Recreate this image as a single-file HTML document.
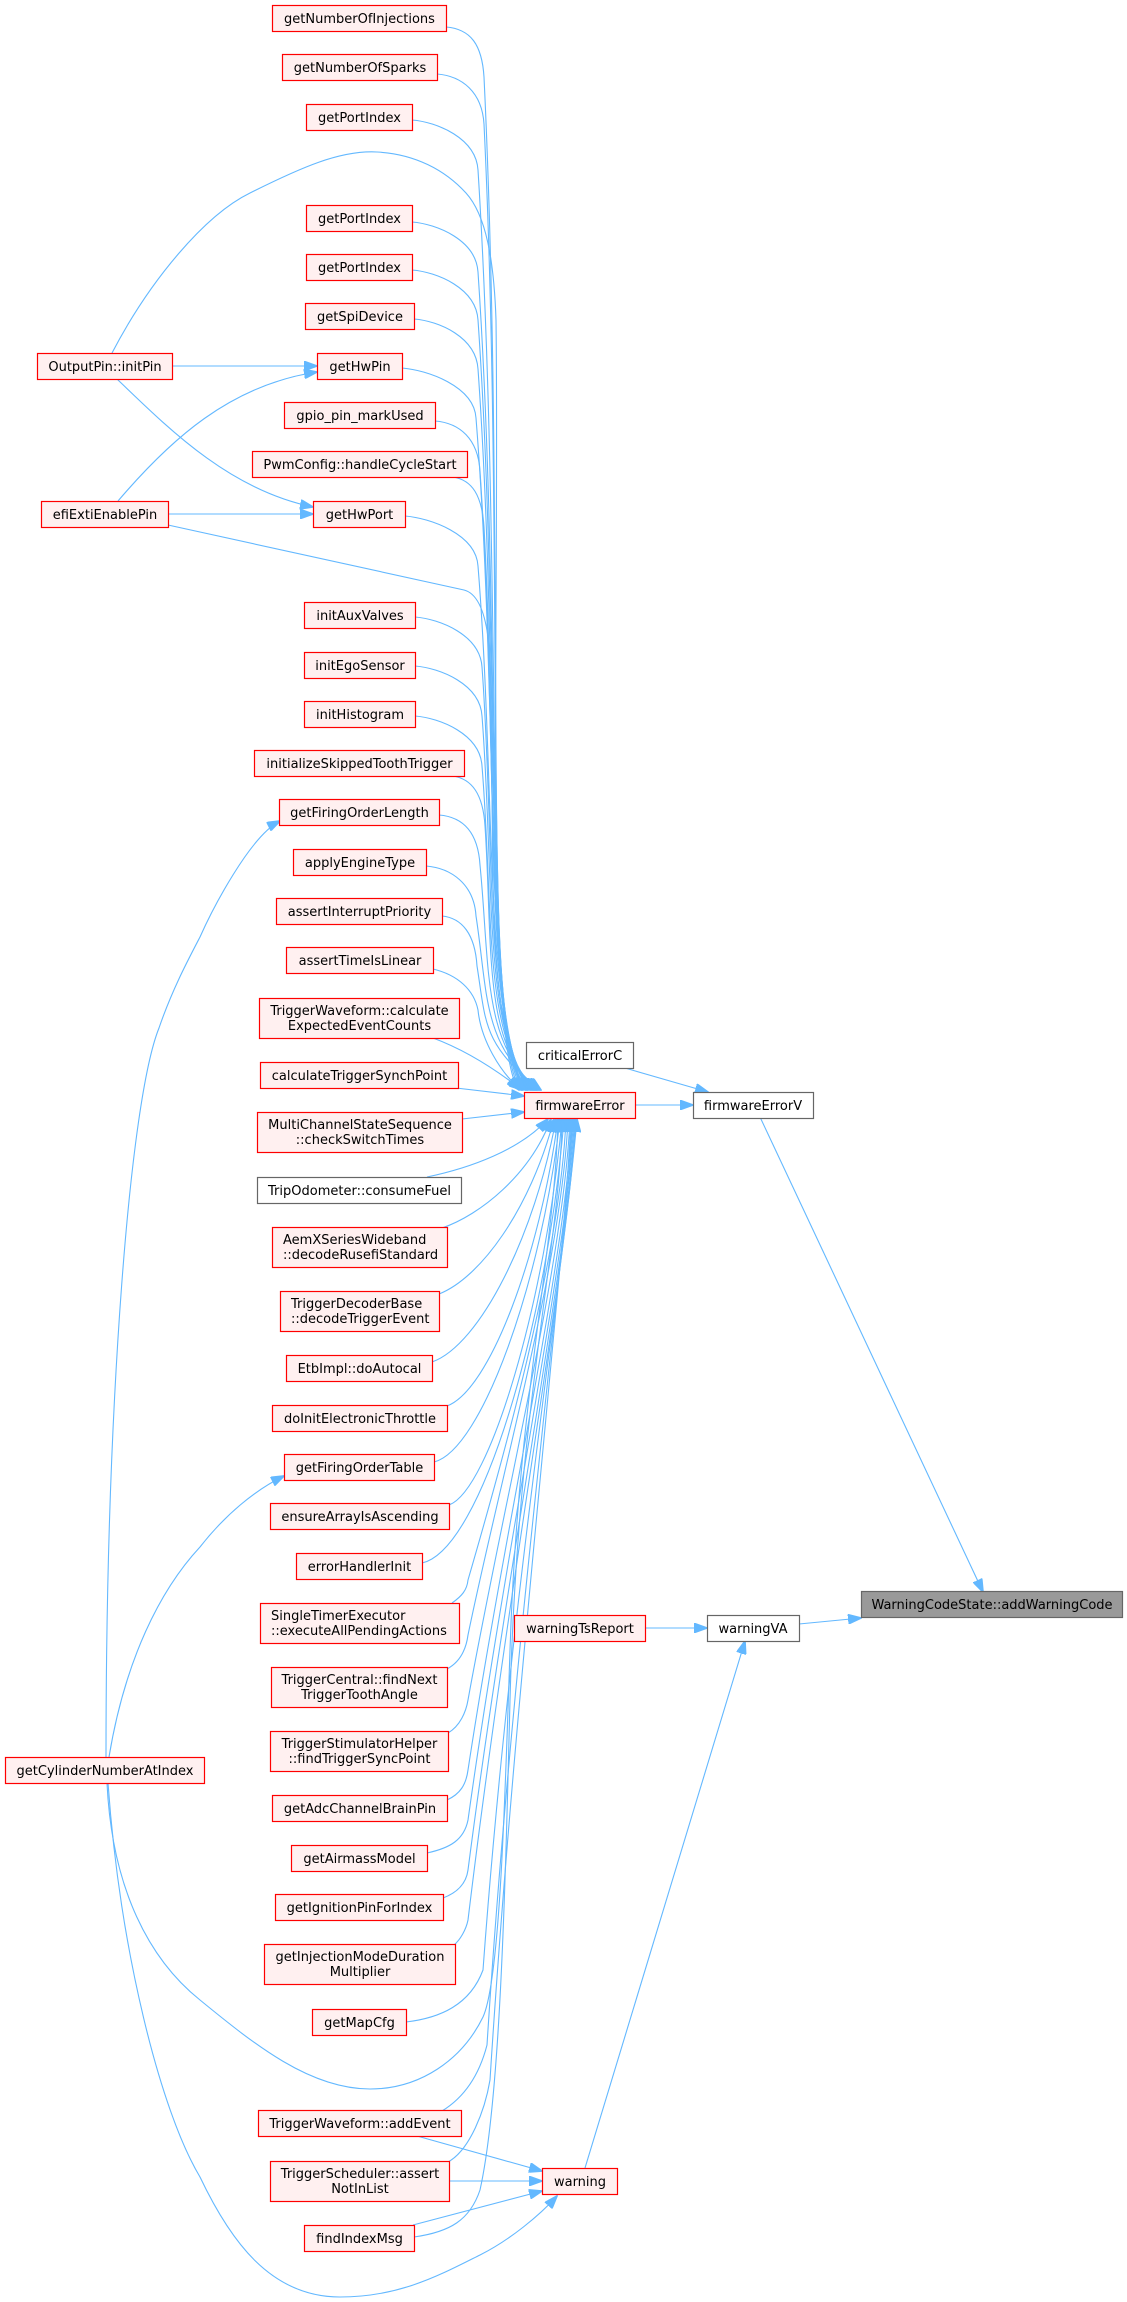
<!DOCTYPE html>
<html><head><meta charset="utf-8"><style>
html,body{margin:0;padding:0;background:#fff;}
svg{display:block;}
text{font-family:"DejaVu Sans","Liberation Sans",sans-serif;font-size:13px;fill:#000;}
.r{fill:#fff0f0;stroke:#ff0000;stroke-width:1.2;}
.g{fill:#fff;stroke:#666;stroke-width:1.2;}
.k{fill:#999;stroke:#666;stroke-width:1.2;}
path{fill:none;stroke:#63b8ff;stroke-width:1.1;}
</style></head><body>
<svg width="1127" height="2302" viewBox="0 0 1127 2302" xmlns="http://www.w3.org/2000/svg">
<defs><marker id="a" markerWidth="14" markerHeight="10" refX="13" refY="5" orient="auto" markerUnits="userSpaceOnUse"><polygon points="0,0 14,5 0,10" fill="#63b8ff" stroke="#63b8ff"/></marker></defs>
<g marker-end="url(#a)">
<path d="M446,27 C471,29 482,45 484,77 C506,533 482,1045 519,1090"/>
<path d="M437,74 C462,76 482,92 484,124 C505,559 482,1045 521,1090"/>
<path d="M412,120 C437,122 476,138 478,170 C504,584 482,1045 523,1090"/>
<path d="M412,222 C437,224 476,240 478,272 C503,640 482,1045 525,1090"/>
<path d="M412,270 C437,272 476,288 478,320 C502,666 482,1045 527,1090"/>
<path d="M414,319 C439,321 476,337 478,369 C501,693 482,1045 528,1090"/>
<path d="M402,368 C427,370 474,386 476,418 C500,719 482,1045 530,1090"/>
<path d="M435,421 C460,423 478,439 480,471 C499,750 482,1045 531,1090"/>
<path d="M453,477 C472,480 482,495 484,527 C498,780 482,1045 532,1090"/>
<path d="M405,516 C430,518 476,534 478,566 C497,802 482,1045 533,1090"/>
<path d="M168,525 L464,590 C480,594 488,620 490,660 C496,860 482,1045 534,1090"/>
<path d="M415,617 C440,619 480,635 482,667 C496,857 482,1045 535,1090"/>
<path d="M415,666 C440,668 480,684 482,716 C495,884 482,1045 536,1090"/>
<path d="M415,716 C440,718 480,734 482,766 C494,912 482,1045 537,1090"/>
<path d="M453,776 C472,779 483,794 485,826 C493,945 482,1045 538,1090"/>
<path d="M439,815 C464,817 478,833 480,865 C490,966 482,1045 539,1090"/>
<path d="M426,866 C451,868 474,884 476,916 C488,994 482,1045 540,1090"/>
<path d="M442,916 C462,918 475,934 477,966 C486,1022 482,1045 541,1090"/>
<path d="M433,969 C458,975 474,990 478,1010 C481,1040 500,1072 520,1089"/>
<path d="M433,1038 C460,1048 490,1065 522,1090"/>
<path d="M456,1088 L524,1096"/>
<path d="M462,1119 L524,1112"/>
<path d="M112,353 C150,280 205,215 250,193 C300,168 340,150 377,152 C415,154 445,170 466,193 C486,215 494,260 496,320 C500,640 482,1045 526,1090"/>
<path d="M427,1177 C470,1168 520,1150 548,1119"/>
<path d="M442,1228 C480,1215 530,1175 551,1119"/>
<path d="M439,1294 C480,1278 530,1210 554,1119"/>
<path d="M432,1362 C480,1345 535,1235 556,1119"/>
<path d="M447,1406 C490,1390 540,1255 558,1119"/>
<path d="M434,1462 C482,1450 542,1280 560,1119"/>
<path d="M449,1505 C490,1490 546,1300 562,1119"/>
<path d="M422,1563 C482,1550 548,1320 564,1119"/>
<path d="M452,1603 C462,1596 467,1590 468,1580 C500,1470 560,1260 566,1119"/>
<path d="M447,1669 C460,1662 466,1650 468,1635 C502,1470 562,1260 568,1119"/>
<path d="M448,1733 C460,1726 466,1712 468,1700 C504,1500 564,1260 570,1119"/>
<path d="M447,1800 C460,1794 466,1785 468,1770 C506,1520 566,1260 572,1119"/>
<path d="M427,1853 C450,1848 464,1840 468,1820 C507,1540 567,1260 574,1119"/>
<path d="M443,1898 C456,1893 466,1885 468,1870 C508,1560 568,1260 575,1119"/>
<path d="M454,1945 C460,1940 466,1930 468,1920 C509,1580 568,1260 576,1119"/>
<path d="M406,2022 C440,2018 470,2005 483,1970 C510,1600 565,1260 577,1119"/>
<path d="M442,2111 C460,2100 478,2080 487,2045 C512,1650 565,1260 573,1119"/>
<path d="M448,2162 C470,2150 485,2110 490,2080 C514,1700 565,1260 571,1119"/>
<path d="M414,2237 C450,2232 470,2220 480,2190 C500,2100 505,1900 510,1700 C518,1400 560,1250 562,1119"/>
<path d="M107,1783 C112,1890 150,1960 200,2000 C255,2045 310,2089 370,2089 C420,2089 462,2060 483,2017 C500,1980 505,1800 510,1650 C518,1400 555,1250 558,1119"/>
<path d="M172,366 L317,366"/>
<path d="M117,379 C170,430 230,490 313,507"/>
<path d="M118,501 C170,440 230,385 317,372"/>
<path d="M168,514 L313,514"/>
<path d="M106,1757 C106,1400 130,1100 159,1028 C172,990 188,960 200,937 C212,910 250,836 280,821"/>
<path d="M109,1757 C125,1660 160,1590 200,1547 C225,1515 255,1490 284,1476"/>
<path d="M108,1783 C120,1950 160,2110 200,2177 C230,2240 270,2297 340,2297 C400,2297 440,2275 480,2255 C510,2240 540,2215 557,2196"/>
<path d="M417,2136 L542,2171"/>
<path d="M449,2181 L542,2181"/>
<path d="M413,2225 L542,2191"/>
<path d="M585,2168 L745,1641"/>
<path d="M645,1628 L707,1628"/>
<path d="M799,1624 L861,1618"/>
<path d="M760,1117 L983,1592"/>
<path d="M635,1105 L693,1105"/>
<path d="M625,1068 L708,1092"/>
</g>

<!-- single-line red nodes -->
<g>
<rect class="r" x="272.5" y="5.5" width="174" height="26"/><text x="359.5" y="23" text-anchor="middle">getNumberOfInjections</text>
<rect class="r" x="282.5" y="54.5" width="155" height="26"/><text x="360" y="72" text-anchor="middle">getNumberOfSparks</text>
<rect class="r" x="306.5" y="104.5" width="106" height="26"/><text x="359.5" y="122" text-anchor="middle">getPortIndex</text>
<rect class="r" x="306.5" y="205.5" width="106" height="26"/><text x="359.5" y="223" text-anchor="middle">getPortIndex</text>
<rect class="r" x="306.5" y="254.5" width="106" height="26"/><text x="359.5" y="272" text-anchor="middle">getPortIndex</text>
<rect class="r" x="305.5" y="303.5" width="109" height="26"/><text x="360" y="321" text-anchor="middle">getSpiDevice</text>
<rect class="r" x="317.5" y="353.5" width="85" height="26"/><text x="360" y="371" text-anchor="middle">getHwPin</text>
<rect class="r" x="284.5" y="402.5" width="151" height="26"/><text x="360" y="420" text-anchor="middle">gpio_pin_markUsed</text>
<rect class="r" x="252.5" y="451.5" width="215" height="26"/><text x="360" y="469" text-anchor="middle">PwmConfig::handleCycleStart</text>
<rect class="r" x="313.5" y="501.5" width="92" height="26"/><text x="359.5" y="519" text-anchor="middle">getHwPort</text>
<rect class="r" x="304.5" y="602.5" width="111" height="26"/><text x="360" y="620" text-anchor="middle">initAuxValves</text>
<rect class="r" x="304.5" y="652.5" width="111" height="26"/><text x="360" y="670" text-anchor="middle">initEgoSensor</text>
<rect class="r" x="304.5" y="701.5" width="111" height="26"/><text x="360" y="719" text-anchor="middle">initHistogram</text>
<rect class="r" x="254.5" y="750.5" width="210" height="26"/><text x="359.5" y="768" text-anchor="middle">initializeSkippedToothTrigger</text>
<rect class="r" x="279.5" y="799.5" width="160" height="26"/><text x="359.5" y="817" text-anchor="middle">getFiringOrderLength</text>
<rect class="r" x="293.5" y="849.5" width="133" height="26"/><text x="360" y="867" text-anchor="middle">applyEngineType</text>
<rect class="r" x="276.5" y="898.5" width="166" height="26"/><text x="359.5" y="916" text-anchor="middle">assertInterruptPriority</text>
<rect class="r" x="286.5" y="947.5" width="147" height="26"/><text x="360" y="965" text-anchor="middle">assertTimeIsLinear</text>
<rect class="r" x="260.5" y="1062.5" width="198" height="26"/><text x="359.5" y="1080" text-anchor="middle">calculateTriggerSynchPoint</text>
<rect class="r" x="286.5" y="1355.5" width="146" height="26"/><text x="359.5" y="1373" text-anchor="middle">EtbImpl::doAutocal</text>
<rect class="r" x="272.5" y="1405.5" width="175" height="26"/><text x="360" y="1423" text-anchor="middle">doInitElectronicThrottle</text>
<rect class="r" x="284.5" y="1454.5" width="150" height="26"/><text x="359.5" y="1472" text-anchor="middle">getFiringOrderTable</text>
<rect class="r" x="270.5" y="1503.5" width="179" height="26"/><text x="360" y="1521" text-anchor="middle">ensureArrayIsAscending</text>
<rect class="r" x="296.5" y="1553.5" width="126" height="26"/><text x="359.5" y="1571" text-anchor="middle">errorHandlerInit</text>
<rect class="r" x="272.5" y="1795.5" width="175" height="26"/><text x="360" y="1813" text-anchor="middle">getAdcChannelBrainPin</text>
<rect class="r" x="291.5" y="1845.5" width="136" height="26"/><text x="359.5" y="1863" text-anchor="middle">getAirmassModel</text>
<rect class="r" x="275.5" y="1894.5" width="168" height="26"/><text x="359.5" y="1912" text-anchor="middle">getIgnitionPinForIndex</text>
<rect class="r" x="312.5" y="2009.5" width="94" height="26"/><text x="359.5" y="2027" text-anchor="middle">getMapCfg</text>
<rect class="r" x="258.5" y="2110.5" width="203" height="26"/><text x="360" y="2128" text-anchor="middle">TriggerWaveform::addEvent</text>
<rect class="r" x="304.5" y="2225.5" width="110" height="26"/><text x="359.5" y="2243" text-anchor="middle">findIndexMsg</text>
<rect class="r" x="37.5" y="353.5" width="135" height="26"/><text x="105" y="371" text-anchor="middle">OutputPin::initPin</text>
<rect class="r" x="41.5" y="501.5" width="127" height="26"/><text x="105" y="519" text-anchor="middle">efiExtiEnablePin</text>
<rect class="r" x="5.5" y="1757.5" width="199" height="26"/><text x="105" y="1775" text-anchor="middle">getCylinderNumberAtIndex</text>
<rect class="r" x="524.5" y="1092.5" width="111" height="26"/><text x="580" y="1110" text-anchor="middle">firmwareError</text>
<rect class="r" x="514.5" y="1615.5" width="131" height="26"/><text x="580" y="1633" text-anchor="middle">warningTsReport</text>
<rect class="r" x="542.5" y="2168.5" width="75" height="26"/><text x="580" y="2186" text-anchor="middle">warning</text>
</g>

<!-- double-line red nodes -->
<g>
<rect class="r" x="259.5" y="998.5" width="200" height="40"/>
<text x="359.5" y="1015" text-anchor="middle">TriggerWaveform::calculate</text>
<text x="359.5" y="1030" text-anchor="middle">ExpectedEventCounts</text>
<rect class="r" x="257.5" y="1112.5" width="205" height="40"/>
<text x="360" y="1129" text-anchor="middle">MultiChannelStateSequence</text>
<text x="360" y="1144" text-anchor="middle">::checkSwitchTimes</text>
<rect class="r" x="272.5" y="1227.5" width="175" height="40"/>
<text x="283" y="1244">AemXSeriesWideband</text>
<text x="283" y="1259">::decodeRusefiStandard</text>
<rect class="r" x="280.5" y="1291.5" width="159" height="40"/>
<text x="291" y="1308">TriggerDecoderBase</text>
<text x="291" y="1323">::decodeTriggerEvent</text>
<rect class="r" x="260.5" y="1603.5" width="199" height="40"/>
<text x="271" y="1620">SingleTimerExecutor</text>
<text x="271" y="1635">::executeAllPendingActions</text>
<rect class="r" x="271.5" y="1667.5" width="176" height="40"/>
<text x="359.5" y="1684" text-anchor="middle">TriggerCentral::findNext</text>
<text x="359.5" y="1699" text-anchor="middle">TriggerToothAngle</text>
<rect class="r" x="270.5" y="1731.5" width="178" height="40"/>
<text x="359.5" y="1748" text-anchor="middle">TriggerStimulatorHelper</text>
<text x="359.5" y="1763" text-anchor="middle">::findTriggerSyncPoint</text>
<rect class="r" x="264.5" y="1944.5" width="191" height="40"/>
<text x="360" y="1961" text-anchor="middle">getInjectionModeDuration</text>
<text x="360" y="1976" text-anchor="middle">Multiplier</text>
<rect class="r" x="270.5" y="2161.5" width="179" height="40"/>
<text x="360" y="2178" text-anchor="middle">TriggerScheduler::assert</text>
<text x="360" y="2193" text-anchor="middle">NotInList</text>
</g>

<!-- gray nodes -->
<g>
<rect class="g" x="257.5" y="1177.5" width="204" height="26"/><text x="359.5" y="1195" text-anchor="middle">TripOdometer::consumeFuel</text>
<rect class="g" x="526.5" y="1042.5" width="107" height="26"/><text x="580" y="1060" text-anchor="middle">criticalErrorC</text>
<rect class="g" x="693.5" y="1092.5" width="120" height="26"/><text x="753" y="1110" text-anchor="middle">firmwareErrorV</text>
<rect class="g" x="707.5" y="1615.5" width="92" height="26"/><text x="753" y="1633" text-anchor="middle">warningVA</text>
<rect class="k" x="861.5" y="1591.5" width="261" height="26"/><text x="992" y="1609" text-anchor="middle">WarningCodeState::addWarningCode</text>
</g>
</svg>
</body></html>
